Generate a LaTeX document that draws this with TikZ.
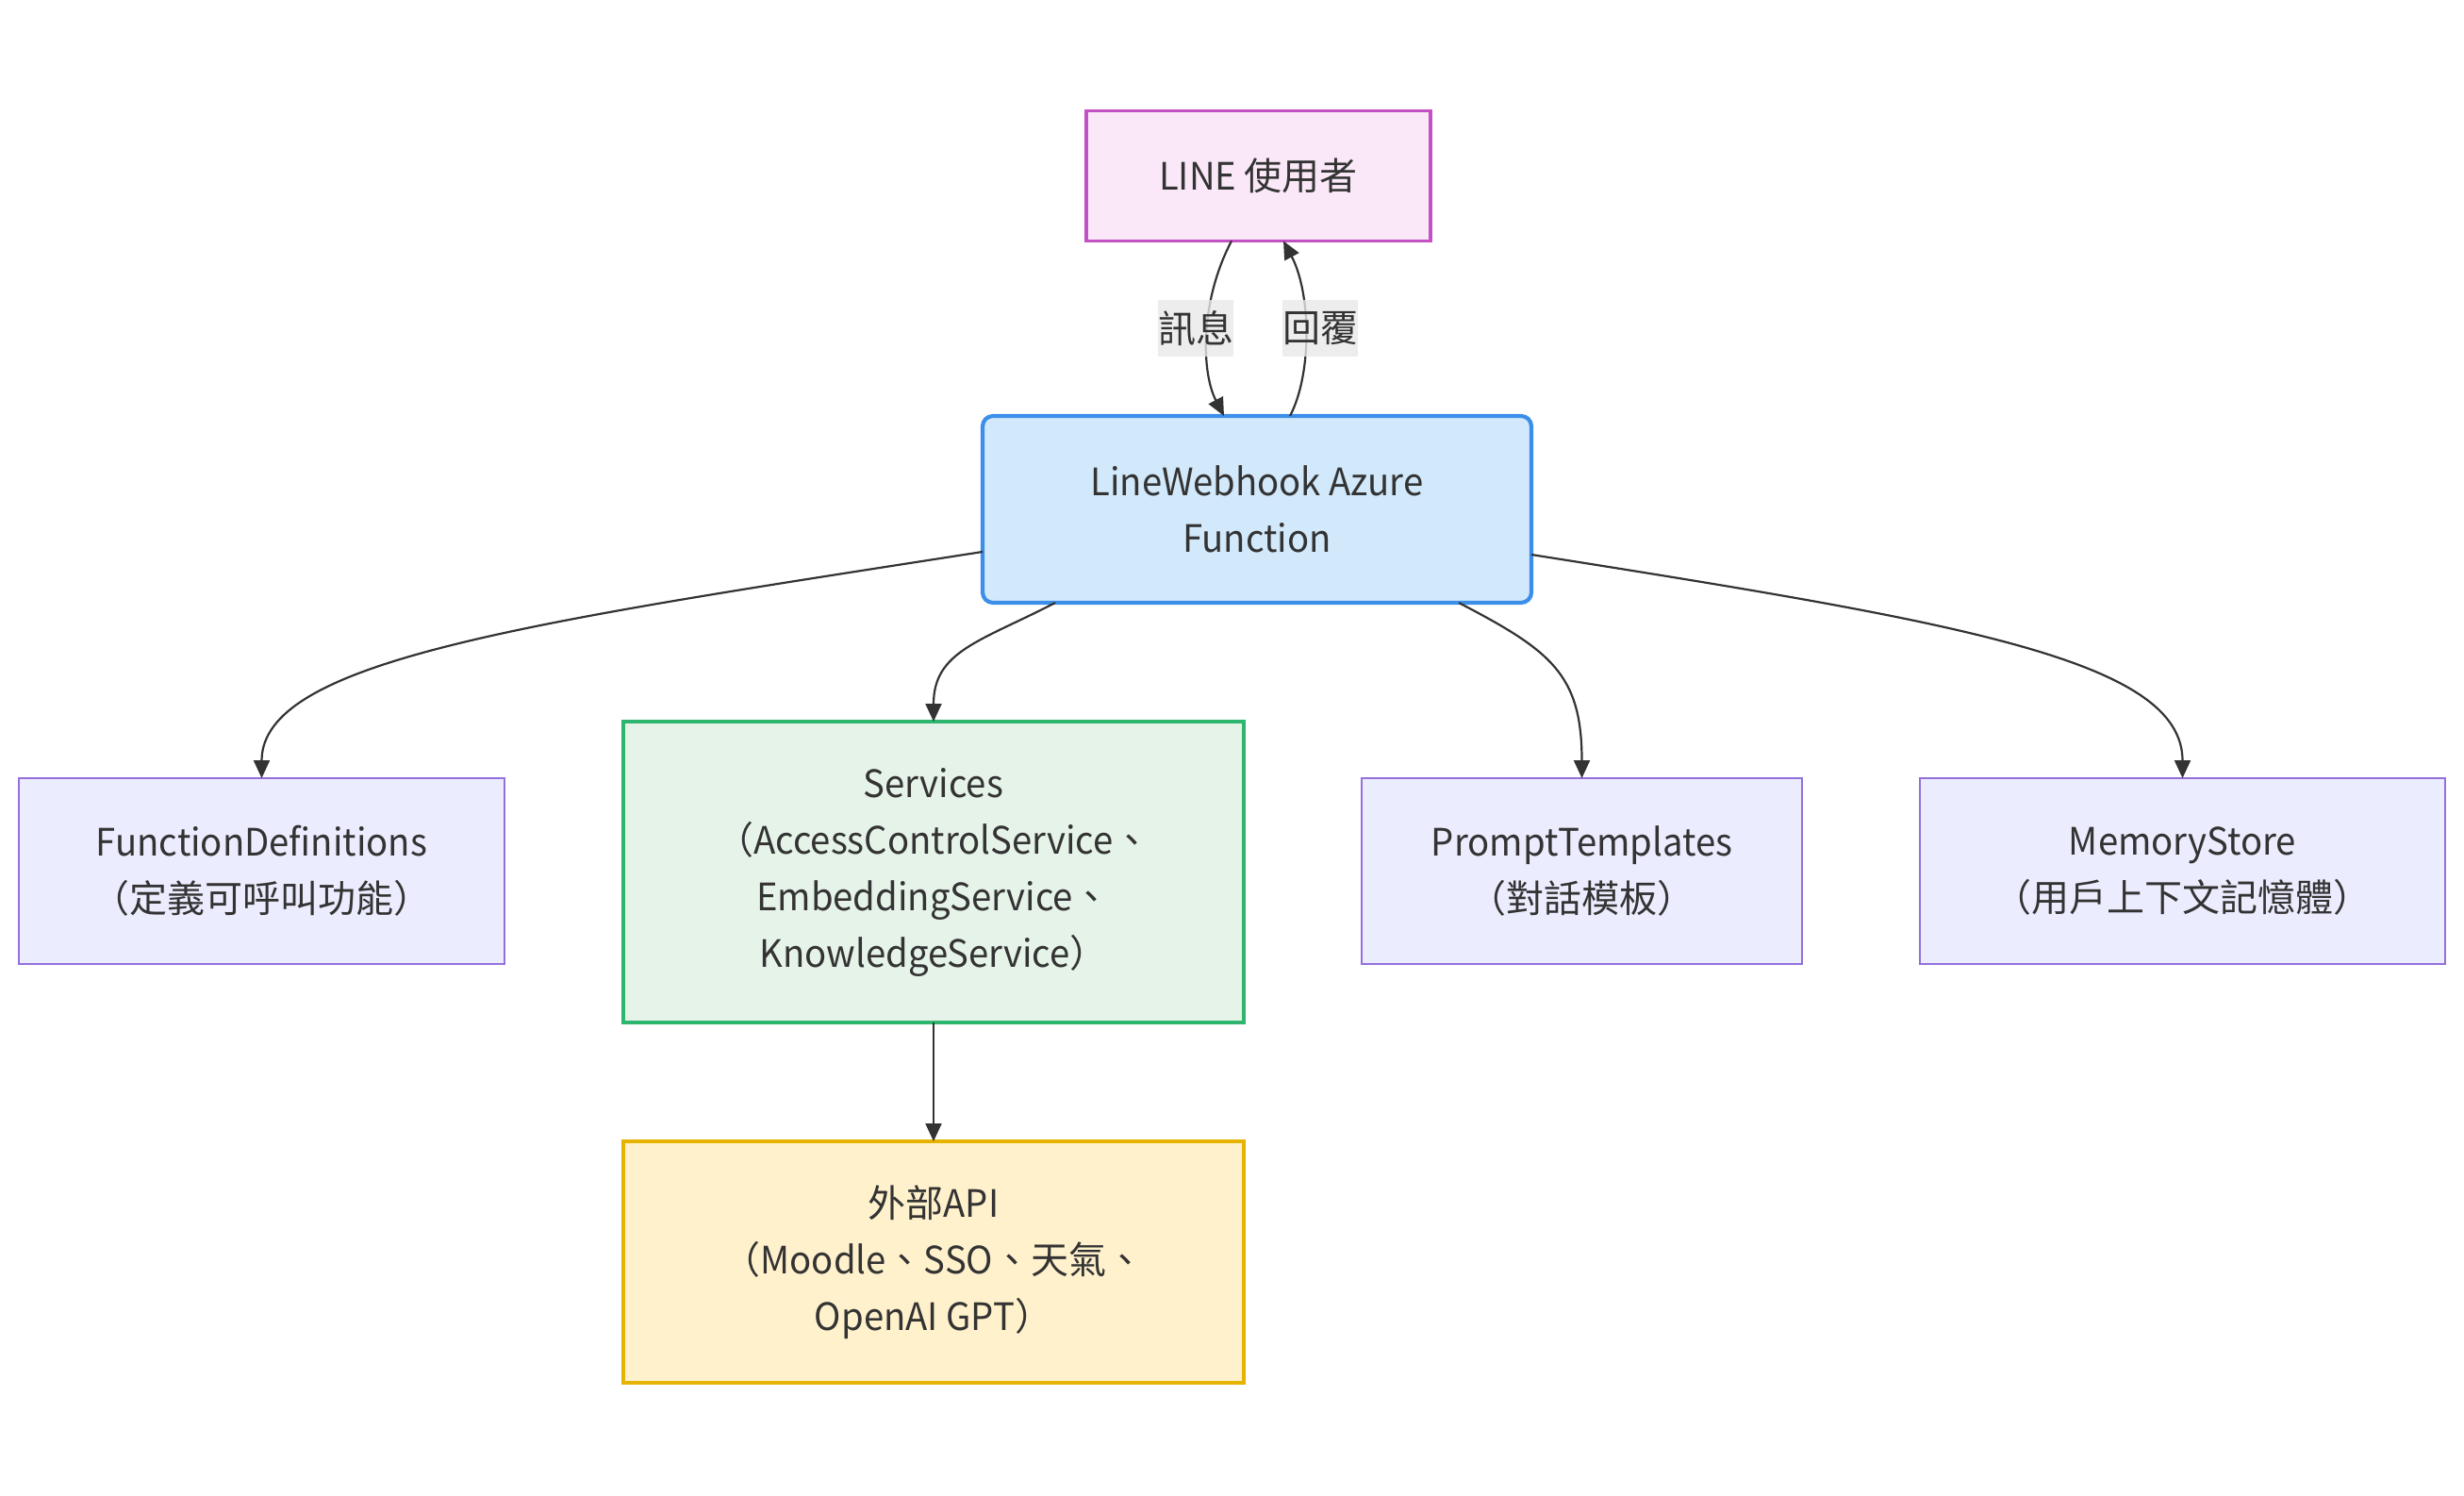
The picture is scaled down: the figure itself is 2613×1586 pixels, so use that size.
\documentclass[tikz,border=0pt]{standalone}
\usepackage{fontspec}
\setmainfont{Noto Sans CJK TC}[FakeStretch=0.956]
\newfontfamily\cjk{Noto Sans CJK TC}
\usetikzlibrary{arrows.meta}
\definecolor{txt}{HTML}{333333}
\definecolor{edgec}{HTML}{333333}
\definecolor{userfill}{HTML}{FAE8F8}
\definecolor{userdraw}{HTML}{C451C4}
\definecolor{hookfill}{HTML}{D2E8FB}
\definecolor{hookdraw}{HTML}{3C8FE8}
\definecolor{svcfill}{HTML}{E6F3E9}
\definecolor{svcdraw}{HTML}{2EB56E}
\definecolor{apifill}{HTML}{FFF1CC}
\definecolor{apidraw}{HTML}{E6B400}
\definecolor{defill}{HTML}{ECECFF}
\definecolor{dedraw}{HTML}{9370DB}
\definecolor{lblfill}{HTML}{E8E8E8}
\begin{document}
\begin{tikzpicture}[x=1pt,y=-1pt,
  box/.style={rectangle, inner sep=0pt, outer sep=0pt, align=center, text=txt,
    font=\fontsize{40}{60}\selectfont},
  plainbox/.style={box, draw=dedraw, fill=defill, line width=2.2pt},
  userbox/.style={box, draw=userdraw, fill=userfill, line width=3.4pt},
  hookbox/.style={box, draw=hookdraw, fill=hookfill, line width=4.2pt, rounded corners=11pt},
  svcbox/.style={box, draw=svcdraw, fill=svcfill, line width=3.6pt},
  apibox/.style={box, draw=apidraw, fill=apifill, line width=3.6pt},
  conn/.style={draw=edgec, line width=2.2pt, -{Triangle[length=19pt,width=17pt]}},
  lbl/.style={rectangle, inner sep=0pt, fill=lblfill, fill opacity=0.8, text opacity=1,
    text=txt, minimum width=80pt, minimum height=60pt, font=\fontsize{40}{60}\selectfont\cjk}
]
\useasboundingbox (0,0) rectangle (2613,1586);

\node[userbox, minimum width=365pt, minimum height=138pt] (user) at (1334.5,186.5) {LINE {\cjk 使用者}};
\node[hookbox, minimum width=582pt, minimum height=198pt] (hook) at (1333,540) {LineWebhook Azure\\Function};
\node[plainbox, minimum width=515pt, minimum height=197pt] (fdef) at (277.5,923.5) {FunctionDefinitions\\{\cjk （定義可呼叫功能）}};
\node[svcbox, minimum width=658pt, minimum height=319pt] (svc) at (990,924.5) {Services\\{\cjk （}AccessControlService{\cjk 、}\\EmbeddingService{\cjk 、}\\KnowledgeService{\cjk ）}};
\node[plainbox, minimum width=467pt, minimum height=197pt] (prompt) at (1677.5,923.5) {PromptTemplates\\{\cjk （對話模板）}};
\node[plainbox, minimum width=557pt, minimum height=197pt] (mem) at (2314.5,923.5) {MemoryStore\\{\cjk （用戶上下文記憶體）}};
\node[apibox, minimum width=658pt, minimum height=256pt] (api) at (990,1338) {{\cjk 外部}API\\{\cjk （}Moodle{\cjk 、}SSO{\cjk 、天氣、}\\OpenAI GPT{\cjk ）}};

% user <-> webhook
\draw[conn] ([xshift=-28.5pt]user.south) .. controls (1272,320) and (1274,395) .. ([xshift=-35pt]hook.north)
  node[lbl, pos=0.5, xshift=-12pt, yshift=7pt] (lmsg) {訊息};
\draw[conn] ([xshift=35pt]hook.north) .. controls (1392,395) and (1390,310) .. ([xshift=26.5pt]user.south)
  node[lbl, pos=0.5, xshift=16pt, yshift=3.5pt] (lrep) {回覆};

% webhook -> children
\draw[conn] ([yshift=-45pt]hook.west) .. controls (560,660) and (277.5,700) .. (fdef.north);
\draw[conn] ([xshift=-214pt]hook.south) .. controls (1040,680) and (990,690) .. (svc.north);
\draw[conn] ([xshift=214pt]hook.south) .. controls (1645,690) and (1677.5,715) .. (prompt.north);
\draw[conn] ([yshift=-48pt]hook.east) .. controls (2080,660) and (2314.5,700) .. (mem.north);

% services -> api
\draw[conn] (svc.south) -- (api.north);
\end{tikzpicture}
\end{document}
